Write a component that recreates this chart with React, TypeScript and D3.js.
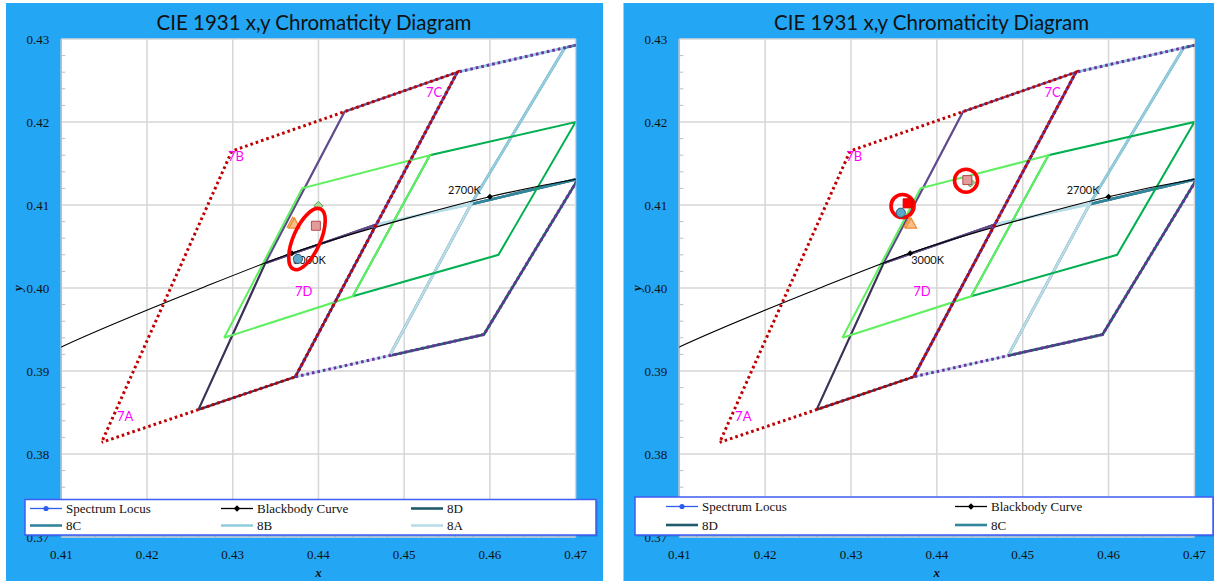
import React from 'react';
import * as d3 from 'd3';

type P = [number, number];

// ---------- axis ticks ----------
const X_TICKS = [0.41, 0.42, 0.43, 0.44, 0.45, 0.46, 0.47];
const Y_TICKS = [0.37, 0.38, 0.39, 0.4, 0.41, 0.42, 0.43];
const X_TICK_LABELS = ['0.41', '0.42', '0.43', '0.44', '0.45', '0.46', '0.47'];
const Y_TICK_LABELS = ['0.37', '0.38', '0.39', '0.40', '0.41', '0.42', '0.43'];

// ---------- series ----------
const SPECTRUM_LOCUS: P[] = [
  [0.3731, 0.6245], [0.4441, 0.5547], [0.5125, 0.4866], [0.5752, 0.4242], [0.627, 0.3725],
];
const BLACKBODY: P[] = [
  [0.4053, 0.3906], [0.41, 0.3929], [0.4259, 0.3998], [0.4369, 0.4042],
  [0.45, 0.4083], [0.46, 0.411], [0.47, 0.4131], [0.4769, 0.4142],
];
const CCT_LABELS = ['3000K', '2700K'];
const CCT_X = [0.4369, 0.46];
const CCT_Y = [0.4042, 0.411];

// 3000K (7-step) quadrangle and its sub-bins
const QUAD_7_OUTER: P[] = [[0.4147, 0.3814], [0.4299, 0.4165], [0.4562, 0.426], [0.4373, 0.3893], [0.4147, 0.3814]];
const QUAD_7C: P[] = [[0.4338, 0.403], [0.44305, 0.42125], [0.4562, 0.426], [0.44675, 0.40765], [0.4338, 0.403]];
const QUAD_7D: P[] = [[0.426, 0.38535], [0.4338, 0.403], [0.44675, 0.40765], [0.4373, 0.3893], [0.426, 0.38535]];
// 2700K (8-step) quadrangle and its sub-bins
const QUAD_8_OUTER: P[] = [[0.4373, 0.3893], [0.4562, 0.426], [0.4813, 0.4319], [0.4593, 0.3944], [0.4373, 0.3893]];
const QUAD_8A: P[] = [[0.4373, 0.3893], [0.44675, 0.40765], [0.4578, 0.4101], [0.4483, 0.39185], [0.4373, 0.3893]];
const QUAD_8B: P[] = [[0.44675, 0.40765], [0.4562, 0.426], [0.46875, 0.42895], [0.4578, 0.4101], [0.44675, 0.40765]];
const QUAD_8C: P[] = [[0.4578, 0.4101], [0.46875, 0.42895], [0.4813, 0.4319], [0.4703, 0.41315], [0.4578, 0.4101]];
const QUAD_8D: P[] = [[0.4483, 0.39185], [0.4578, 0.4101], [0.4703, 0.41315], [0.4593, 0.3944], [0.4483, 0.39185]];
// green quadrangles
const GREEN_DARK: P[] = [[0.444, 0.399], [0.453, 0.416], [0.47, 0.42], [0.461, 0.404], [0.444, 0.399]];
const GREEN_BRIGHT: P[] = [[0.429, 0.394], [0.4381, 0.412], [0.453, 0.416], [0.444, 0.399], [0.429, 0.394]];

const BIN_LABELS = ['7A', '7B', '7C', '7D'];
const BIN_X = [0.4165, 0.42945, 0.45254, 0.43726];
const BIN_Y = [0.38449, 0.41582, 0.42353, 0.39955];

// ---------- measured points ----------
const LEFT_DIAMONDS: P[] = [[0.44, 0.4099]];
const LEFT_PINK_SQUARES: P[] = [[0.4397, 0.4075]];
const LEFT_RED_SQUARES: P[] = [];
const LEFT_TRIANGLES: P[] = [[0.437, 0.4078], [0.4372, 0.4077]];
const LEFT_CIRCLES: P[] = [[0.4376, 0.4035]];
const LEFT_ELLIPSES: P[] = [[0.43866, 0.4059]];
const LEFT_RINGS: P[] = [];

const RIGHT_DIAMONDS: P[] = [[0.4439, 0.4127]];
const RIGHT_PINK_SQUARES: P[] = [[0.44355, 0.413]];
const RIGHT_RED_SQUARES: P[] = [[0.4366, 0.4102]];
const RIGHT_TRIANGLES: P[] = [[0.4368, 0.4078], [0.437, 0.4077]];
const RIGHT_CIRCLES: P[] = [[0.4358, 0.40907]];
const RIGHT_ELLIPSES: P[] = [];
const RIGHT_RINGS: P[] = [[0.436, 0.40988], [0.4434, 0.41293]];

const LEFT_LEGEND = ['Spectrum Locus', 'Blackbody Curve', '8D', '8C', '8B', '8A'];
const RIGHT_LEGEND = ['Spectrum Locus', 'Blackbody Curve', '8D', '8C'];

const TITLE = 'CIE 1931 x,y Chromaticity Diagram';

// ---------- styles ----------
const BLUE = '#23a6f4';
const SERIF = '"Liberation Serif", "Times New Roman", serif';
const SANS = 'Lato, "Open Sans", sans-serif';
const C8 = { '8A': '#b7dee8', '8B': '#93cddd', '8C': '#31859c', '8D': '#215a6a' } as Record<string, string>;

const PLOT_TOP = 39;
const PLOT_BOTTOM = 537;

interface PanelProps {
  id: string;
  bgX0: number;
  bgX1: number;
  plotL: number;
  plotR: number;
  titleX: number;
  yTitleX: number;
  legendBox: [number, number, number, number];
  legendCols: number[];
  legendRows: number[];
  legendItems: string[];
  diamonds: P[];
  pinkSquares: P[];
  redSquares: P[];
  triangles: P[];
  circles: P[];
  ellipses: P[];
  rings: P[];
}

function Panel(p: PanelProps) {
  const x = d3.scaleLinear().domain([0.41, 0.47]).range([p.plotL, p.plotR]);
  const y = d3.scaleLinear().domain([0.37, 0.43]).range([PLOT_BOTTOM, PLOT_TOP]);
  const line = d3.line<P>().x((d) => x(d[0])).y((d) => y(d[1]));
  const smooth = d3.line<P>().x((d) => x(d[0])).y((d) => y(d[1])).curve(d3.curveMonotoneX);
  const minorX = x.ticks(30).filter((v) => !X_TICKS.some((t) => Math.abs(t - v) < 1e-6));
  const minorY = y.ticks(30).filter((v) => !Y_TICKS.some((t) => Math.abs(t - v) < 1e-6));
  const clip = `clip-${p.id}`;
  const [lbx, lby, lbw, lbh] = p.legendBox;
  const nCols = p.legendCols.length;

  const dotted = { fill: 'none', strokeWidth: 3, strokeDasharray: '2.6 3' };

  const legendSample = (name: string, lx: number, ly: number) => {
    if (name === 'Spectrum Locus') {
      return (
        <g>
          <line x1={lx} x2={lx + 32} y1={ly} y2={ly} stroke="#2b5ef0" strokeWidth={1.3} />
          <circle cx={lx + 16} cy={ly} r={2.6} fill="#2b5ef0" />
        </g>
      );
    }
    if (name === 'Blackbody Curve') {
      return (
        <g>
          <line x1={lx} x2={lx + 32} y1={ly} y2={ly} stroke="#000" strokeWidth={1.3} />
          <path d={`M${lx + 16},${ly - 3.2}L${lx + 19.2},${ly}L${lx + 16},${ly + 3.2}L${lx + 12.8},${ly}Z`} fill="#000" />
        </g>
      );
    }
    return <line x1={lx} x2={lx + 32} y1={ly} y2={ly} stroke={C8[name]} strokeWidth={2.6} />;
  };

  const sq = (d: P, s: number) => `M${x(d[0]) - s / 2},${y(d[1]) - s / 2}h${s}v${s}h${-s}Z`;
  const tri = (d: P) => {
    const cx = x(d[0]);
    const cy = y(d[1]);
    return `M${cx},${cy - 6}L${cx + 5.5},${cy + 4}L${cx - 5.5},${cy + 4}Z`;
  };
  const dia = (d: P, s: number) => {
    const cx = x(d[0]);
    const cy = y(d[1]);
    return `M${cx},${cy - s}L${cx + s},${cy}L${cx},${cy + s}L${cx - s},${cy}Z`;
  };

  return (
    <g>
      <defs>
        <clipPath id={clip}>
          <rect x={p.plotL} y={PLOT_TOP} width={p.plotR - p.plotL} height={PLOT_BOTTOM - PLOT_TOP} />
        </clipPath>
      </defs>
      <rect x={p.bgX0} y={3} width={p.bgX1 - p.bgX0} height={581 - 3} fill={BLUE} />
      <rect x={p.plotL} y={PLOT_TOP} width={p.plotR - p.plotL} height={PLOT_BOTTOM - PLOT_TOP} fill="#fff" />
      <text x={p.titleX} y={30} textAnchor="middle" fontFamily={SANS} fontSize={20.5} fill="#111"
        textLength={315} lengthAdjust="spacingAndGlyphs">{TITLE}</text>

      {/* grid */}
      {X_TICKS.map((t) => (
        <line key={`gx${t}`} x1={x(t)} x2={x(t)} y1={PLOT_TOP} y2={PLOT_BOTTOM} stroke="#d6d6d6" strokeWidth={1.5} />
      ))}
      {Y_TICKS.map((t) => (
        <line key={`gy${t}`} x1={p.plotL} x2={p.plotR} y1={y(t)} y2={y(t)} stroke="#d6d6d6" strokeWidth={1.5} />
      ))}
      <line x1={p.plotL} x2={p.plotL} y1={PLOT_TOP} y2={PLOT_BOTTOM} stroke="#bdbdbd" strokeWidth={1.2} />
      {minorY.map((t) => (
        <line key={`my${t}`} x1={p.plotL} x2={p.plotL + 4} y1={y(t)} y2={y(t)} stroke="#bdbdbd" strokeWidth={1} />
      ))}
      {minorX.map((t) => (
        <line key={`mx${t}`} x1={x(t)} x2={x(t)} y1={PLOT_BOTTOM} y2={PLOT_BOTTOM - 4} stroke="#bdbdbd" strokeWidth={1} />
      ))}

      <g clipPath={`url(#${clip})`}>
        <path d={line(SPECTRUM_LOCUS) || ''} fill="none" stroke="#2b5ef0" strokeWidth={1.3} />
        <path d={line(QUAD_8D) || ''} fill="none" stroke={C8['8D']} strokeWidth={2.6} />
        <path d={line(QUAD_8C) || ''} fill="none" stroke={C8['8C']} strokeWidth={2.6} />
        <path d={line(QUAD_8B) || ''} fill="none" stroke={C8['8B']} strokeWidth={2.6} />
        <path d={line(QUAD_8A) || ''} fill="none" stroke={C8['8A']} strokeWidth={2.6} />
        <path d={line(QUAD_7D) || ''} fill="none" stroke="#3a3156" strokeWidth={2.2} />
        <path d={line(QUAD_7C) || ''} fill="none" stroke="#5f4b8b" strokeWidth={2.2} />
        <path d={line(GREEN_DARK) || ''} fill="none" stroke="#00b050" strokeWidth={2} />
        <path d={line(GREEN_BRIGHT) || ''} fill="none" stroke="#5ef05e" strokeWidth={2} />
        <path d={smooth(BLACKBODY) || ''} fill="none" stroke="#000" strokeWidth={1.1} />
        <path d={line(QUAD_8_OUTER) || ''} stroke="#7030a0" {...dotted} />
        <path d={line(QUAD_7_OUTER) || ''} stroke="#c00000" {...dotted} strokeDashoffset={2.8} />
      </g>

      {/* CCT points */}
      {CCT_LABELS.map((lab, i) => (
        <g key={lab}>
          <path d={dia([CCT_X[i], CCT_Y[i]], 3)} fill="#000" />
          {i === 0 ? (
            <text x={x(CCT_X[i]) + 1} y={y(CCT_Y[i]) + 10.5} fontFamily={SANS} fontSize={11} fill="#111">{lab}</text>
          ) : (
            <text x={x(CCT_X[i]) - 9} y={y(CCT_Y[i]) - 2.8} textAnchor="end" fontFamily={SANS} fontSize={11} fill="#111">{lab}</text>
          )}
        </g>
      ))}

      {/* bin labels */}
      {BIN_LABELS.map((lab, i) => (
        <text key={lab} x={x(BIN_X[i])} y={y(BIN_Y[i]) + 4.6} fontFamily={SANS} fontSize={13} fill="#ff00ff">{lab}</text>
      ))}

      {/* measured points */}
      {p.rings.map((d, i) => (
        <circle key={`r${i}`} cx={x(d[0])} cy={y(d[1])} r={11.5} fill="none" stroke="#ff0000" strokeWidth={3.6} />
      ))}
      {p.diamonds.map((d, i) => (
        <path key={`d${i}`} d={dia(d, 4.5)} fill="#a6d99a" stroke="#5aa35a" strokeWidth={1} />
      ))}
      {p.triangles.map((d, i) => (
        <path key={`t${i}`} d={tri(d)} fill="#fbbf8c" stroke="#f08a30" strokeWidth={1.2} />
      ))}
      {p.circles.map((d, i) => (
        <circle key={`c${i}`} cx={x(d[0])} cy={y(d[1])} r={4.6} fill="#5ba8c8" stroke="#2e5f78" strokeWidth={1} />
      ))}
      {p.pinkSquares.map((d, i) => (
        <path key={`ps${i}`} d={sq(d, 9)} fill="#e39c9c" stroke="#b84a4a" strokeWidth={1} />
      ))}
      {p.redSquares.map((d, i) => (
        <path key={`rs${i}`} d={sq(d, 9)} fill="#ff0000" stroke="#d00000" strokeWidth={1} />
      ))}
      {p.ellipses.map((d, i) => (
        <ellipse key={`e${i}`} cx={0} cy={0} rx={13.5} ry={33}
          transform={`translate(${x(d[0])},${y(d[1])}) rotate(24)`}
          fill="none" stroke="#ff0000" strokeWidth={3.6} />
      ))}

      {/* tick labels */}
      {Y_TICKS.map((t, i) => (
        <text key={`yl${t}`} x={p.plotL - 12} y={y(t) + 4.5} textAnchor="end" fontFamily={SERIF} fontSize={13} fill="#111">
          {Y_TICK_LABELS[i]}
        </text>
      ))}
      {X_TICKS.map((t, i) => (
        <text key={`xl${t}`} x={x(t)} y={559} textAnchor="middle" fontFamily={SERIF} fontSize={13} fill="#111">
          {X_TICK_LABELS[i]}
        </text>
      ))}
      <text x={(p.plotL + p.plotR) / 2} y={577} textAnchor="middle" fontFamily={SERIF} fontSize={13}
        fontWeight="bold" fontStyle="italic" fill="#111">x</text>
      <text transform={`translate(${p.yTitleX},${y(0.4)}) rotate(-90)`} textAnchor="middle" dy={4}
        fontFamily={SERIF} fontSize={13} fontWeight="bold" fontStyle="italic" fill="#111">y</text>

      {/* legend */}
      <rect x={lbx + 1.5} y={lby + 1.5} width={lbw} height={lbh} fill="#1a5fb4" opacity={0.55} />
      <rect x={lbx} y={lby} width={lbw} height={lbh} fill="#fff" stroke="#3f5cf5" strokeWidth={1.5} />
      {p.legendItems.map((name, i) => {
        const lx = p.legendCols[i % nCols];
        const ly = p.legendRows[Math.floor(i / nCols)];
        return (
          <g key={name}>
            {legendSample(name, lx, ly)}
            <text x={lx + 36} y={ly + 4.5} fontFamily={SERIF} fontSize={13} fill="#111">{name}</text>
          </g>
        );
      })}
    </g>
  );
}

export default function App() {
  return (
    <svg width={1214} height={581} style={{ position: 'absolute', left: 0, top: 0, background: '#fff' }}>
      <Panel
        id="left"
        bgX0={6}
        bgX1={603}
        plotL={61.3}
        plotR={575.6}
        titleX={314}
        yTitleX={17.5}
        legendBox={[25, 499.5, 571, 35.5]}
        legendCols={[30, 221, 411]}
        legendRows={[508.5, 525.5]}
        legendItems={LEFT_LEGEND}
        diamonds={LEFT_DIAMONDS}
        pinkSquares={LEFT_PINK_SQUARES}
        redSquares={LEFT_RED_SQUARES}
        triangles={LEFT_TRIANGLES}
        circles={LEFT_CIRCLES}
        ellipses={LEFT_ELLIPSES}
        rings={LEFT_RINGS}
      />
      <Panel
        id="right"
        bgX0={623.5}
        bgX1={1214}
        plotL={679.3}
        plotR={1194.4}
        titleX={931.6}
        yTitleX={637}
        legendBox={[635, 497, 578, 38]}
        legendCols={[666, 955]}
        legendRows={[506.5, 525]}
        legendItems={RIGHT_LEGEND}
        diamonds={RIGHT_DIAMONDS}
        pinkSquares={RIGHT_PINK_SQUARES}
        redSquares={RIGHT_RED_SQUARES}
        triangles={RIGHT_TRIANGLES}
        circles={RIGHT_CIRCLES}
        ellipses={RIGHT_ELLIPSES}
        rings={RIGHT_RINGS}
      />
    </svg>
  );
}
